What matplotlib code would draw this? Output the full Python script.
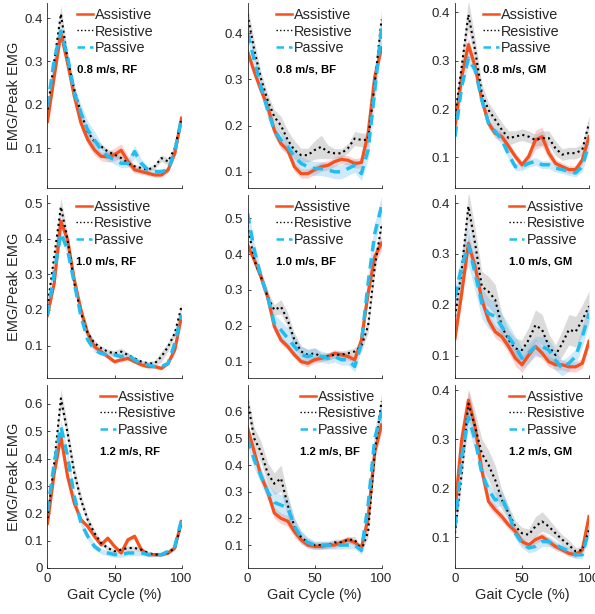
import numpy as np
import matplotlib
matplotlib.use("Agg")
import matplotlib.pyplot as plt
from matplotlib.ticker import FuncFormatter

plt.rcParams['font.family'] = ['Liberation Sans', 'DejaVu Sans']

# gait cycle sampled every 5 %
gait = np.arange(0, 101, 5)

# ---- 0.8 m/s ----
rf08_assist = [0.162, 0.265, 0.366, 0.296, 0.22, 0.158, 0.12, 0.096, 0.081, 0.08, 0.085, 0.095, 0.07, 0.05, 0.046, 0.042, 0.038, 0.038, 0.05, 0.088, 0.169]
rf08_resist = [0.189, 0.30, 0.41, 0.304, 0.235, 0.181, 0.138, 0.115, 0.104, 0.092, 0.085, 0.077, 0.065, 0.058, 0.054, 0.05, 0.058, 0.077, 0.069, 0.10, 0.169]
rf08_passive = [0.196, 0.304, 0.37, 0.31, 0.227, 0.181, 0.142, 0.119, 0.096, 0.081, 0.073, 0.065, 0.065, 0.092, 0.065, 0.05, 0.046, 0.046, 0.05, 0.092, 0.169]
rf08_assist_sd = [0.005, 0.01, 0.012, 0.012, 0.012, 0.012, 0.012, 0.012, 0.01, 0.012, 0.015, 0.015, 0.012, 0.008, 0.006, 0.005, 0.005, 0.005, 0.006, 0.008, 0.008]
rf08_resist_sd = [0.005, 0.012, 0.02, 0.015, 0.012, 0.01, 0.008, 0.008, 0.006, 0.006, 0.006, 0.006, 0.006, 0.005, 0.005, 0.005, 0.006, 0.008, 0.008, 0.008, 0.01]
rf08_passive_sd = [0.01, 0.015, 0.015, 0.015, 0.015, 0.02, 0.02, 0.02, 0.015, 0.01, 0.01, 0.01, 0.01, 0.015, 0.01, 0.008, 0.006, 0.006, 0.006, 0.008, 0.01]

bf08_assist = [0.36, 0.317, 0.277, 0.241, 0.19, 0.161, 0.147, 0.111, 0.096, 0.096, 0.104, 0.111, 0.114, 0.122, 0.127, 0.125, 0.118, 0.12, 0.183, 0.306, 0.368]
bf08_resist = [0.44, 0.364, 0.302, 0.255, 0.219, 0.2, 0.169, 0.147, 0.136, 0.136, 0.147, 0.154, 0.143, 0.14, 0.14, 0.151, 0.172, 0.169, 0.169, 0.292, 0.429]
bf08_passive = [0.40, 0.342, 0.284, 0.234, 0.19, 0.169, 0.154, 0.133, 0.118, 0.111, 0.107, 0.107, 0.104, 0.10, 0.10, 0.107, 0.114, 0.096, 0.147, 0.277, 0.411]
bf08_assist_sd = [0.01, 0.01, 0.01, 0.012, 0.012, 0.012, 0.01, 0.01, 0.01, 0.01, 0.01, 0.01, 0.01, 0.01, 0.01, 0.01, 0.01, 0.012, 0.015, 0.015, 0.015]
bf08_resist_sd = [0.02, 0.02, 0.015, 0.015, 0.015, 0.02, 0.02, 0.02, 0.015, 0.015, 0.02, 0.025, 0.015, 0.01, 0.01, 0.01, 0.015, 0.015, 0.015, 0.02, 0.02]
bf08_passive_sd = [0.015, 0.015, 0.015, 0.015, 0.015, 0.015, 0.015, 0.015, 0.015, 0.015, 0.015, 0.015, 0.015, 0.015, 0.015, 0.015, 0.015, 0.015, 0.02, 0.03, 0.03]

gm08_assist = [0.164, 0.267, 0.333, 0.288, 0.219, 0.171, 0.15, 0.143, 0.123, 0.102, 0.085, 0.102, 0.136, 0.143, 0.109, 0.088, 0.081, 0.075, 0.075, 0.095, 0.143]
gm08_resist = [0.185, 0.288, 0.395, 0.322, 0.233, 0.198, 0.178, 0.157, 0.14, 0.143, 0.147, 0.143, 0.136, 0.14, 0.14, 0.119, 0.106, 0.109, 0.109, 0.116, 0.171]
gm08_passive = [0.143, 0.247, 0.305, 0.281, 0.219, 0.171, 0.154, 0.136, 0.106, 0.081, 0.081, 0.088, 0.092, 0.085, 0.085, 0.078, 0.075, 0.071, 0.068, 0.081, 0.13]
gm08_assist_sd = [0.008, 0.012, 0.015, 0.012, 0.01, 0.01, 0.01, 0.01, 0.008, 0.008, 0.008, 0.01, 0.02, 0.02, 0.012, 0.008, 0.008, 0.008, 0.008, 0.008, 0.01]
gm08_resist_sd = [0.01, 0.02, 0.03, 0.025, 0.02, 0.015, 0.015, 0.015, 0.015, 0.012, 0.012, 0.012, 0.012, 0.015, 0.015, 0.015, 0.012, 0.012, 0.012, 0.012, 0.015]
gm08_passive_sd = [0.008, 0.01, 0.012, 0.012, 0.01, 0.01, 0.01, 0.01, 0.01, 0.008, 0.008, 0.008, 0.008, 0.008, 0.008, 0.008, 0.008, 0.008, 0.008, 0.01, 0.012]

# ---- 1.0 m/s ----
rf10_assist = [0.186, 0.275, 0.449, 0.397, 0.285, 0.20, 0.135, 0.097, 0.083, 0.069, 0.055, 0.06, 0.064, 0.055, 0.046, 0.041, 0.041, 0.036, 0.05, 0.088, 0.182]
rf10_resist = [0.21, 0.35, 0.49, 0.397, 0.275, 0.191, 0.135, 0.107, 0.093, 0.083, 0.078, 0.083, 0.074, 0.064, 0.055, 0.05, 0.05, 0.069, 0.097, 0.135, 0.21]
rf10_passive = [0.186, 0.303, 0.416, 0.369, 0.275, 0.182, 0.116, 0.088, 0.078, 0.074, 0.074, 0.069, 0.074, 0.06, 0.05, 0.046, 0.041, 0.041, 0.05, 0.107, 0.186]
rf10_assist_sd = [0.008, 0.01, 0.012, 0.012, 0.01, 0.008, 0.008, 0.006, 0.006, 0.006, 0.006, 0.006, 0.006, 0.005, 0.005, 0.005, 0.005, 0.005, 0.005, 0.006, 0.008]
rf10_resist_sd = [0.01, 0.015, 0.025, 0.02, 0.015, 0.01, 0.008, 0.008, 0.006, 0.006, 0.008, 0.01, 0.006, 0.005, 0.005, 0.005, 0.008, 0.015, 0.012, 0.01, 0.01]
rf10_passive_sd = [0.008, 0.01, 0.015, 0.015, 0.012, 0.01, 0.008, 0.006, 0.006, 0.006, 0.006, 0.006, 0.006, 0.005, 0.005, 0.005, 0.005, 0.005, 0.005, 0.008, 0.01]

bf10_assist = [0.426, 0.384, 0.337, 0.281, 0.198, 0.16, 0.142, 0.119, 0.10, 0.095, 0.105, 0.109, 0.114, 0.123, 0.119, 0.114, 0.105, 0.16, 0.29, 0.393, 0.43]
bf10_resist = [0.481, 0.384, 0.337, 0.281, 0.244, 0.253, 0.216, 0.16, 0.128, 0.119, 0.123, 0.114, 0.114, 0.119, 0.119, 0.123, 0.128, 0.142, 0.20, 0.365, 0.481]
bf10_passive = [0.514, 0.412, 0.337, 0.281, 0.207, 0.188, 0.165, 0.142, 0.119, 0.114, 0.119, 0.114, 0.109, 0.114, 0.105, 0.105, 0.086, 0.151, 0.319, 0.458, 0.533]
bf10_assist_sd = [0.012, 0.012, 0.012, 0.012, 0.012, 0.012, 0.01, 0.01, 0.01, 0.01, 0.01, 0.01, 0.01, 0.01, 0.01, 0.01, 0.01, 0.015, 0.02, 0.02, 0.02]
bf10_resist_sd = [0.015, 0.015, 0.015, 0.015, 0.015, 0.02, 0.02, 0.02, 0.015, 0.015, 0.015, 0.01, 0.01, 0.01, 0.01, 0.01, 0.01, 0.015, 0.02, 0.02, 0.015]
bf10_passive_sd = [0.02, 0.02, 0.02, 0.02, 0.025, 0.025, 0.03, 0.03, 0.025, 0.02, 0.02, 0.015, 0.015, 0.015, 0.015, 0.015, 0.015, 0.02, 0.03, 0.03, 0.03]

gm10_assist = [0.134, 0.223, 0.321, 0.275, 0.21, 0.17, 0.147, 0.137, 0.118, 0.095, 0.082, 0.101, 0.118, 0.105, 0.088, 0.082, 0.082, 0.078, 0.078, 0.085, 0.128]
gm10_resist = [0.177, 0.269, 0.394, 0.321, 0.236, 0.226, 0.21, 0.157, 0.131, 0.114, 0.111, 0.131, 0.16, 0.151, 0.118, 0.101, 0.124, 0.151, 0.147, 0.17, 0.197]
gm10_passive = [0.216, 0.275, 0.318, 0.262, 0.203, 0.183, 0.177, 0.157, 0.137, 0.118, 0.095, 0.105, 0.118, 0.118, 0.111, 0.091, 0.075, 0.085, 0.098, 0.137, 0.183]
gm10_assist_sd = [0.01, 0.015, 0.02, 0.015, 0.012, 0.012, 0.012, 0.012, 0.012, 0.015, 0.015, 0.015, 0.015, 0.012, 0.01, 0.01, 0.01, 0.01, 0.01, 0.01, 0.01]
gm10_resist_sd = [0.015, 0.02, 0.03, 0.03, 0.03, 0.03, 0.03, 0.025, 0.02, 0.02, 0.02, 0.025, 0.03, 0.03, 0.025, 0.02, 0.025, 0.03, 0.03, 0.03, 0.03]
gm10_passive_sd = [0.02, 0.03, 0.04, 0.035, 0.03, 0.03, 0.03, 0.025, 0.025, 0.02, 0.02, 0.02, 0.02, 0.02, 0.02, 0.02, 0.015, 0.015, 0.015, 0.02, 0.02]

# ---- 1.2 m/s ----
rf12_assist = [0.164, 0.347, 0.48, 0.335, 0.237, 0.176, 0.152, 0.116, 0.085, 0.109, 0.079, 0.055, 0.103, 0.116, 0.067, 0.049, 0.049, 0.049, 0.055, 0.073, 0.17]
rf12_resist = [0.182, 0.383, 0.62, 0.493, 0.347, 0.249, 0.176, 0.128, 0.091, 0.073, 0.061, 0.067, 0.073, 0.073, 0.067, 0.055, 0.049, 0.049, 0.055, 0.073, 0.164]
rf12_passive = [0.207, 0.383, 0.517, 0.408, 0.262, 0.164, 0.116, 0.079, 0.061, 0.055, 0.049, 0.049, 0.055, 0.055, 0.055, 0.049, 0.049, 0.049, 0.061, 0.079, 0.176]
rf12_assist_sd = [0.008, 0.012, 0.015, 0.012, 0.01, 0.008, 0.008, 0.008, 0.008, 0.008, 0.008, 0.008, 0.008, 0.008, 0.008, 0.006, 0.006, 0.006, 0.006, 0.006, 0.008]
rf12_resist_sd = [0.01, 0.02, 0.035, 0.03, 0.025, 0.02, 0.015, 0.012, 0.01, 0.008, 0.008, 0.008, 0.008, 0.008, 0.008, 0.006, 0.006, 0.006, 0.006, 0.008, 0.01]
rf12_passive_sd = [0.01, 0.02, 0.025, 0.02, 0.015, 0.012, 0.012, 0.012, 0.01, 0.01, 0.01, 0.01, 0.01, 0.01, 0.01, 0.008, 0.008, 0.008, 0.008, 0.008, 0.01]

bf12_assist = [0.54, 0.45, 0.36, 0.30, 0.22, 0.20, 0.19, 0.15, 0.12, 0.10, 0.095, 0.095, 0.10, 0.10, 0.11, 0.12, 0.11, 0.09, 0.20, 0.45, 0.55]
bf12_resist = [0.64, 0.50, 0.45, 0.37, 0.33, 0.35, 0.25, 0.17, 0.13, 0.11, 0.10, 0.10, 0.10, 0.11, 0.11, 0.12, 0.12, 0.08, 0.15, 0.45, 0.64]
bf12_passive = [0.50, 0.42, 0.36, 0.30, 0.26, 0.25, 0.24, 0.17, 0.13, 0.11, 0.10, 0.10, 0.10, 0.10, 0.10, 0.10, 0.10, 0.08, 0.25, 0.50, 0.60]
bf12_assist_sd = [0.02, 0.02, 0.02, 0.02, 0.02, 0.02, 0.02, 0.02, 0.015, 0.012, 0.012, 0.012, 0.012, 0.012, 0.012, 0.012, 0.012, 0.012, 0.02, 0.025, 0.025]
bf12_resist_sd = [0.03, 0.04, 0.04, 0.04, 0.04, 0.05, 0.04, 0.03, 0.02, 0.015, 0.012, 0.012, 0.012, 0.012, 0.012, 0.012, 0.012, 0.012, 0.02, 0.03, 0.03]
bf12_passive_sd = [0.03, 0.03, 0.03, 0.03, 0.04, 0.04, 0.04, 0.03, 0.025, 0.02, 0.015, 0.015, 0.015, 0.015, 0.015, 0.015, 0.015, 0.015, 0.03, 0.04, 0.04]

gm12_assist = [0.156, 0.299, 0.38, 0.326, 0.237, 0.173, 0.156, 0.142, 0.125, 0.112, 0.091, 0.084, 0.095, 0.101, 0.091, 0.081, 0.074, 0.067, 0.064, 0.074, 0.142]
gm12_resist = [0.108, 0.231, 0.373, 0.326, 0.271, 0.248, 0.217, 0.176, 0.149, 0.122, 0.108, 0.105, 0.122, 0.132, 0.122, 0.108, 0.095, 0.084, 0.071, 0.074, 0.115]
gm12_passive = [0.122, 0.265, 0.346, 0.299, 0.231, 0.197, 0.176, 0.18, 0.149, 0.108, 0.088, 0.078, 0.081, 0.091, 0.091, 0.084, 0.078, 0.071, 0.064, 0.064, 0.115]
gm12_assist_sd = [0.008, 0.015, 0.02, 0.015, 0.012, 0.01, 0.01, 0.01, 0.008, 0.008, 0.008, 0.008, 0.008, 0.008, 0.008, 0.008, 0.006, 0.006, 0.006, 0.006, 0.008]
gm12_resist_sd = [0.01, 0.02, 0.03, 0.03, 0.03, 0.03, 0.03, 0.02, 0.015, 0.012, 0.012, 0.012, 0.02, 0.02, 0.015, 0.012, 0.01, 0.01, 0.008, 0.008, 0.01]
gm12_passive_sd = [0.02, 0.025, 0.025, 0.02, 0.015, 0.015, 0.015, 0.015, 0.012, 0.012, 0.01, 0.01, 0.01, 0.01, 0.01, 0.008, 0.008, 0.008, 0.008, 0.008, 0.01]

speeds = ["0.8", "1.0", "1.2"]
muscles = ["RF", "BF", "GM"]
labels = ["Assistive", "Resistive", "Passive"]

ylims = [[(0.008, 0.435), (0.065, 0.465), (0.037, 0.419)],
         [(0.009, 0.523), (0.054, 0.565), (0.056, 0.416)],
         [(0.0, 0.669), (0.014, 0.70), (0.037, 0.411)]]
yticks = [[[0.1, 0.2, 0.3, 0.4]] * 3,
          [[0.1, 0.2, 0.3, 0.4, 0.5], [0.1, 0.2, 0.3, 0.4, 0.5], [0.1, 0.2, 0.3, 0.4]],
          [[0, 0.1, 0.2, 0.3, 0.4, 0.5, 0.6], [0.1, 0.2, 0.3, 0.4, 0.5, 0.6], [0.1, 0.2, 0.3, 0.4]]]
legend_x = [[0.22, 0.21, 0.21], [0.21, 0.21, 0.40], [0.39, 0.39, 0.40]]

panels = [
    [(rf08_assist, rf08_resist, rf08_passive, rf08_assist_sd, rf08_resist_sd, rf08_passive_sd),
     (bf08_assist, bf08_resist, bf08_passive, bf08_assist_sd, bf08_resist_sd, bf08_passive_sd),
     (gm08_assist, gm08_resist, gm08_passive, gm08_assist_sd, gm08_resist_sd, gm08_passive_sd)],
    [(rf10_assist, rf10_resist, rf10_passive, rf10_assist_sd, rf10_resist_sd, rf10_passive_sd),
     (bf10_assist, bf10_resist, bf10_passive, bf10_assist_sd, bf10_resist_sd, bf10_passive_sd),
     (gm10_assist, gm10_resist, gm10_passive, gm10_assist_sd, gm10_resist_sd, gm10_passive_sd)],
    [(rf12_assist, rf12_resist, rf12_passive, rf12_assist_sd, rf12_resist_sd, rf12_passive_sd),
     (bf12_assist, bf12_resist, bf12_passive, bf12_assist_sd, bf12_resist_sd, bf12_passive_sd),
     (gm12_assist, gm12_resist, gm12_passive, gm12_assist_sd, gm12_resist_sd, gm12_passive_sd)],
]

c_assist = '#f4511e'
c_passive = '#22bdf0'
c_resist = 'black'
txt = '#262626'

fig = plt.figure(figsize=(5.95, 6.14), dpi=100)
W, H = 595.0, 614.0
col_left = [47.5, 247.5, 455.0]
col_w = 134.0
row_tb = [(3, 188), (195, 378), (385, 568)]

for r in range(3):
    for c in range(3):
        top, bot = row_tb[r]
        ax = fig.add_axes([col_left[c] / W, 1 - bot / H, col_w / W, (bot - top) / H])
        a, rs, p, a_sd, rs_sd, p_sd = [np.array(v) for v in panels[r][c]]

        ax.fill_between(gait, a - a_sd, a + a_sd, color='#f08080', alpha=0.35, lw=0)
        ax.fill_between(gait, rs - rs_sd, rs + rs_sd, color='#9a9a9a', alpha=0.35, lw=0)
        ax.fill_between(gait, p - p_sd, p + p_sd, color='#5ab8f0', alpha=0.3, lw=0)

        ax.plot(gait, a, color=c_assist, lw=2.3, label=labels[0])
        ax.plot(gait, rs, color=c_resist, lw=1.5, ls=(0, (1, 1.6)), label=labels[1])
        ax.plot(gait, p, color=c_passive, lw=2.5, ls=(0, (3, 2)), label=labels[2])

        ax.set_xlim(0, 100)
        ax.set_ylim(*ylims[r][c])
        ax.set_xticks([0, 50, 100])
        ax.set_yticks(yticks[r][c])
        ax.yaxis.set_major_formatter(FuncFormatter(lambda v, pos: '%g' % v))
        ax.tick_params(direction='in', length=2.5, width=0.6, colors=txt, labelsize=9.5)
        for s in ['top', 'right']:
            ax.spines[s].set_visible(False)
        for s in ['left', 'bottom']:
            ax.spines[s].set_color(txt)
            ax.spines[s].set_linewidth(0.6)
        if r < 2:
            ax.tick_params(labelbottom=False)
        else:
            ax.set_xlabel("Gait Cycle (%)", fontsize=10.5, color=txt, labelpad=2)
        if c == 0:
            ax.set_ylabel("EMG/Peak EMG", fontsize=10.5, color=txt, labelpad=2)

        leg = ax.legend(loc='upper left', bbox_to_anchor=(legend_x[r][c], 0.975),
                        frameon=False, fontsize=10.4, handlelength=1.1,
                        handletextpad=0.15, labelspacing=0.2, borderpad=0, borderaxespad=0)
        for t in leg.get_texts():
            t.set_color(txt)
        for h, w in zip(leg.get_lines(), [1.8, 1.0, 1.8]):
            h.set_linewidth(w)
        ax.text(legend_x[r][c], 1 - 67.0 / (bot - top), f"{speeds[r]} m/s, {muscles[c]}",
                transform=ax.transAxes, fontsize=8.2, fontweight='bold', va='center', ha='left')

fig.savefig("out.png", dpi=100)
